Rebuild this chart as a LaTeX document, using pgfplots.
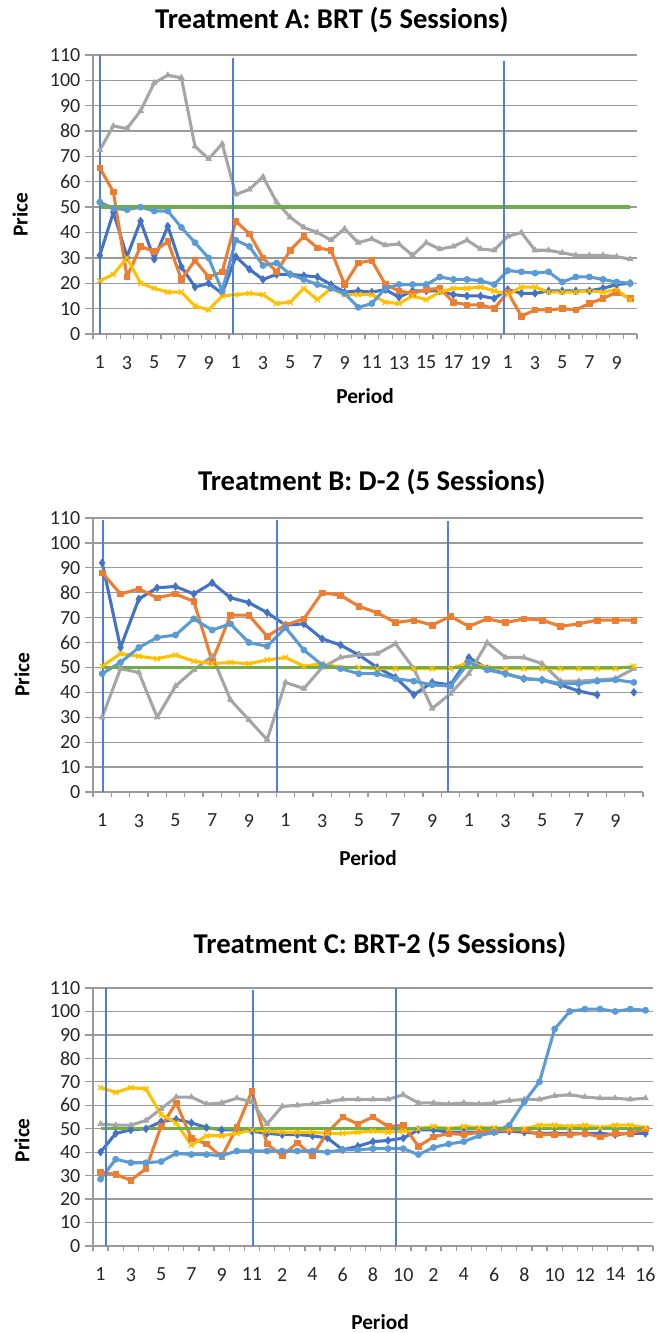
\documentclass[border=0pt]{standalone}
\usepackage{fontspec}
\setmainfont{Carlito}
\usepackage{pgfplots}
\usepackage{pgfplotstable}
\pgfplotsset{compat=1.18}
\definecolor{dblue}{HTML}{4472C4}
\definecolor{lblue}{HTML}{5B9BD5}
\definecolor{xorange}{HTML}{ED7D31}
\definecolor{xgray}{HTML}{A5A5A5}
\definecolor{xyellow}{HTML}{FFC000}
\definecolor{xgreen}{HTML}{70AD47}
\definecolor{gridgray}{HTML}{9A9A9A}
\definecolor{vline}{HTML}{4F7FD4}
\definecolor{ticktext}{HTML}{262626}

\pgfplotstableread{
x db or gr ye lb
1 31 65.5 72.5 21 52
2 48 56 82 23.5 49.5
3 30.5 22.5 81 30 49
4 44.5 34.5 88 20 50
5 29.5 32.5 99 18 48.5
6 42.5 36.5 102 16.5 48.5
7 26.5 21.5 101 16.5 42
8 18.5 29 74 11 36
9 20 22.5 69 9.5 30
10 16 24.5 75 15 17
11 30.5 44.5 55 15.5 37
12 25.5 39.5 57 16 34.5
13 21.5 30 62 15.5 27
14 23.5 24.5 52 12 28
15 23.5 33 46 12.5 23.5
16 23 38.5 42 18 21.5
17 22.5 34 40 13.5 19.5
18 19.5 33 37 18 18
19 16.5 19.5 41.5 15.5 16
20 17 28 36 15.5 10.5
21 16.5 29 37.5 15.5 12
22 17.5 19.5 35 12.5 18
23 14.5 17 35.5 12 19.5
24 17 16 31 15 19.5
25 17 17.5 36 13.5 19.5
26 17 18 33.5 16.5 22.5
27 15.5 12.5 34.5 18 21.5
28 15 11.5 37 18 21.5
29 15 11.5 33.5 18.5 21
30 14 10 33 17 19.5
31 17.5 16.5 38.5 15.5 25
32 16 7 40 18.5 24.5
33 16 9.5 33 18.5 24
34 17 9.5 33 16.5 24.5
35 17 10 32 16.5 20.5
36 17 9.5 31 16.5 22.5
37 17 12 31 17 22.5
38 18 14 31 16.5 21.5
39 19.5 16.5 30.5 17.5 20.5
40 20 14 29.5 13.5 20
}\tabA

\pgfplotstableread{
x db or gr ye lb
1 92 88 30 50.5 47.5
2 58 79.5 49.5 55.5 52
3 77.5 81.5 48 54.5 58
4 82 78 30 53.5 62
5 82.5 79.5 42.5 55 63
6 79.5 76.5 49 52.5 69.5
7 84 52.5 54.5 51.5 65
8 78 71 37 52 67.5
9 76 71 29 51.5 60
10 72 62.5 21 53 58.5
11 67 67 44 54 66
12 67.5 69.5 41.5 50.5 57
13 61.5 80 50 51.5 51
14 59 79 54 50 49.5
15 55 74.5 55 50 47.5
16 50 72 55.5 49.5 47.5
17 46 68 59.5 49.5 45.5
18 39 69 49.5 49.5 44.5
19 44 67 33.5 49.5 43
20 43 70.5 39.5 49.5 42.5
21 54 66.5 47.5 52 52
22 49.5 69.5 60 50 49
23 47.5 68 54 49.5 47.5
24 45.5 69.5 54 49.5 45.5
25 45 69 51.5 49.5 45
26 43 66.5 44.5 49.5 43.5
27 40.5 67.5 44.5 49.5 43.5
28 39 69 45 49.5 44.5
29 nan 69 45.5 49.5 45
30 40 69 49.5 50.5 44
}\tabB

\pgfplotstableread{
x db or gr ye lb
1 40 31.5 52 67.5 28.5
2 48 30.5 51.5 65.5 37
3 49.5 28 51.5 67.5 35.5
4 50 33 53.5 67 35.5
5 53 51 58.5 56 36
6 54 61 63.5 52.5 39.5
7 52.5 46 63.5 43 39
8 50.5 43.5 60.5 47 39
9 49.5 38 61 47 38.5
10 49.5 50.5 63 48 40.5
11 49 66 61.5 49.5 40.5
12 48 43.5 52 49 40.5
13 47.5 38.5 59.5 48.5 40.5
14 47.5 44 60 48.5 40.5
15 47 38.5 60.5 48.5 40.5
16 46 48.5 61.5 48 40
17 41 55 62.5 48 41
18 42.5 52 62.5 48.5 41
19 44.5 55 62.5 49 41.5
20 45 51 62.5 48.5 41.5
21 46 51.5 64.5 49 41.5
22 49.5 42.5 61 50 39
23 49.5 46.5 61 51 42
24 48.5 48 60.5 50 43.5
25 48.5 47.5 61 51 44.5
26 48.5 48.5 60.5 50.5 47
27 48.5 49 61 50.5 48.5
28 49 49.5 62 50 51.5
29 48.5 49.5 62.5 50 61.5
30 48 47.5 62.5 51.5 70
31 48 47.5 64 51.5 92.5
32 48 47.5 64.5 51 100
33 48 48 63.5 51.5 101
34 48 46.5 63 50.5 101
35 47.5 48 63 51.5 100
36 48 48 62.5 51.5 101
37 48 50 63 50.5 100.5
}\tabC

\pgfplotsset{
  excel/.style={
    scale only axis, anchor=south west,
    ymin=0, ymax=110, ytick={0,10,...,110},
    axis lines=left, axis line style={-, draw=gridgray, line width=1pt},
    ymajorgrids, grid style={gridgray, line width=1pt},
    tick align=outside,
    major tick length=6pt, minor tick length=4pt,
    every tick/.append style={gridgray, line width=1pt},
    every major x tick/.append style={draw=none},
    xticklabel style={yshift=-7pt},
    /pgf/number format/assume math mode=true,
    tick label style={font=\fontsize{15}{18}\selectfont, text=ticktext},
    label style={font=\bfseries\fontsize{16}{19}\selectfont},
    title style={font=\bfseries\fontsize{21.5}{25}\selectfont, anchor=center},
    ylabel={Price}, xlabel={Period},
    unbounded coords=jump,
    every axis plot/.append style={line width=2.3pt, line join=round},
    clip=false,
  },
  s1/.style={dblue, mark=diamond*, mark size=2.9pt, mark options={line width=0.5pt}},
  s2/.style={xorange, mark=square*, mark size=2.1pt, mark options={line width=0.5pt}},
  s3/.style={xgray, mark=triangle*, mark size=2.5pt, mark options={line width=0.5pt}},
  s4/.style={xyellow, mark=x, mark size=2.7pt, mark options={line width=1pt}},
  s5/.style={lblue, mark=*, mark size=2.3pt, mark options={line width=0.5pt}},
  s6/.style={xgreen, no marks, line width=2.5pt},
  vl/.style={vline, line width=1.5pt, no marks},
}

\begin{document}
\begin{tikzpicture}
\path[use as bounding box] (0,0) rectangle (492pt,999.75pt);

% Panel A
\begin{axis}[excel,
  at={(69.75pt,749.25pt)}, width=408pt, height=209.25pt,
  xmin=0.5, xmax=40.5,
  minor xtick={0.5,1.5,...,40.5},
  xtick={1,3,...,39},
  xticklabels={1,3,5,7,9,1,3,5,7,9,11,13,15,17,19,1,3,5,7,9},
  title={Treatment A: BRT (5 Sessions)},
  title style={at={(axis description cs:0.439,1.097)}},
  xlabel style={at={(axis description cs:0.5,-0.222)}, anchor=center},
  ylabel style={at={(axis description cs:-0.134,0.427)}, anchor=center},
]
\addplot[s1] table[x=x,y=db] {\tabA};
\addplot[s2] table[x=x,y=or] {\tabA};
\addplot[s3] table[x=x,y=gr] {\tabA};
\addplot[s4] table[x=x,y=ye] {\tabA};
\addplot[s5] table[x=x,y=lb] {\tabA};
\addplot[s6] coordinates {(1,50) (40,50)};
\addplot[vl] coordinates {(1.05,0) (1.05,110)};
\addplot[vl] coordinates {(10.8,0) (10.8,108.7)};
\addplot[vl] coordinates {(30.7,0) (30.7,107.5)};
\end{axis}

% Panel B
\begin{axis}[excel,
  at={(69.75pt,405.75pt)}, width=412.5pt, height=205.5pt,
  xmin=0.5, xmax=30.5,
  minor xtick={0.5,1.5,...,30.5},
  xtick={1,3,...,29},
  xticklabels={1,3,5,7,9,1,3,5,7,9,1,3,5,7,9},
  title={Treatment B: D-2 (5 Sessions)},
  title style={at={(axis description cs:0.507,1.103)}},
  xlabel style={at={(axis description cs:0.5,-0.241)}, anchor=center},
  ylabel style={at={(axis description cs:-0.129,0.427)}, anchor=center},
]
\addplot[s1] table[x=x,y=db] {\tabB};
\addplot[s2] table[x=x,y=or] {\tabB};
\addplot[s3] table[x=x,y=gr] {\tabB};
\addplot[s4] table[x=x,y=ye] {\tabB};
\addplot[s5] table[x=x,y=lb] {\tabB};
\addplot[s6] coordinates {(1,50) (30,50)};
\addplot[vl] coordinates {(1.07,0) (1.07,109.3)};
\addplot[vl] coordinates {(10.52,0) (10.52,109.3)};
\addplot[vl] coordinates {(19.87,0) (19.87,108.7)};
\end{axis}

% Panel C
\begin{axis}[excel,
  at={(69.75pt,65.25pt)}, width=420pt, height=193.5pt,
  xmin=0.5, xmax=37.5,
  minor xtick={0.5,1.5,...,37.5},
  xtick={1,3,...,37},
  xticklabels={1,3,5,7,9,11,2,4,6,8,10,2,4,6,8,10,12,14,16},
  title={Treatment C: BRT-2 (5 Sessions)},
  title style={at={(axis description cs:0.5125,1.136)}},
  xlabel style={at={(axis description cs:0.5125,-0.295)}, anchor=center},
  ylabel style={at={(axis description cs:-0.127,0.41)}, anchor=center},
]
\addplot[s1] table[x=x,y=db] {\tabC};
\addplot[s2] table[x=x,y=or] {\tabC};
\addplot[s3] table[x=x,y=gr] {\tabC};
\addplot[s4] table[x=x,y=ye] {\tabC};
\addplot[s5] table[x=x,y=lb] {\tabC};
\addplot[s6] coordinates {(1,50) (37,50)};
\addplot[vl] coordinates {(1.33,0) (1.33,110)};
\addplot[vl] coordinates {(11.1,0) (11.1,109)};
\addplot[vl] coordinates {(20.5,0) (20.5,110)};
\end{axis}
\end{tikzpicture}
\end{document}
